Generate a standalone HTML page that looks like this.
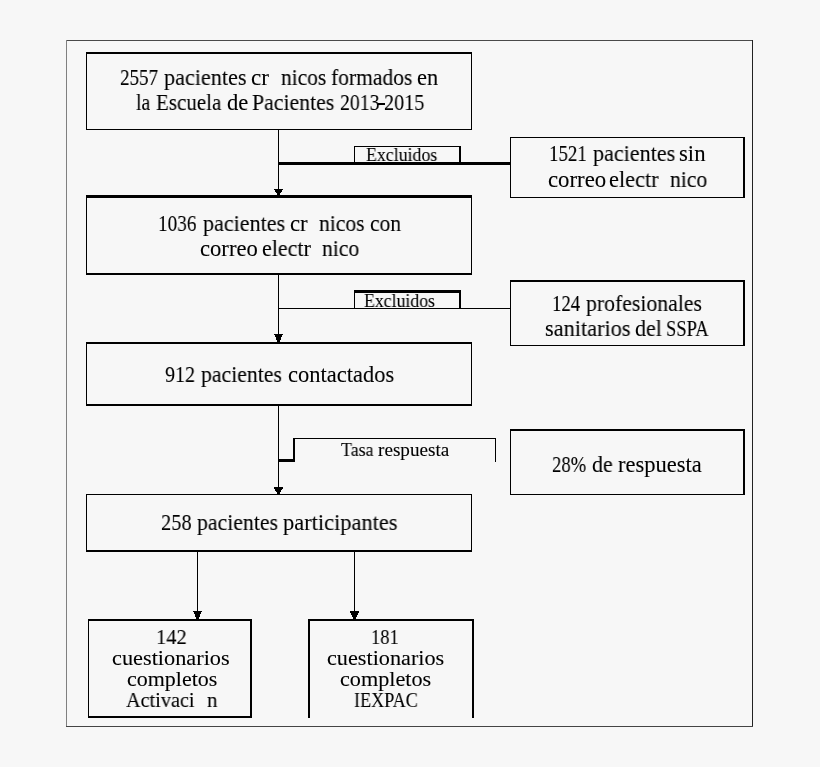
<!DOCTYPE html>
<html><head><meta charset="utf-8"><style>
html,body{margin:0;padding:0;background:#f7f7f7;width:820px;height:767px;overflow:hidden}
svg{position:absolute;left:0;top:0}
.t{position:absolute;white-space:pre;font-family:"Liberation Serif",serif;line-height:1;color:#000;transform-origin:0 0;will-change:transform;-webkit-text-stroke:0.1px #000}
</style></head><body>
<svg width="820" height="767" shape-rendering="crispEdges">
<rect x="66" y="40" width="687" height="1" fill="#4a4a4a"/>
<rect x="66" y="40" width="1" height="687" fill="#808080"/>
<rect x="752" y="40" width="1" height="687" fill="#222"/>
<rect x="66" y="726" width="687" height="1" fill="#444"/>
<rect x="86" y="52" width="386" height="2" fill="#000"/>
<rect x="86" y="129" width="386" height="1" fill="#000"/>
<rect x="86" y="52" width="1" height="78" fill="#000"/>
<rect x="471" y="52" width="1" height="78" fill="#000"/>
<rect x="510" y="137" width="235" height="1" fill="#000"/>
<rect x="510" y="197" width="235" height="1" fill="#000"/>
<rect x="510" y="137" width="1" height="61" fill="#000"/>
<rect x="743" y="137" width="2" height="61" fill="#000"/>
<rect x="86" y="195" width="386" height="3" fill="#000"/>
<rect x="86" y="273" width="386" height="2" fill="#000"/>
<rect x="86" y="195" width="1" height="80" fill="#000"/>
<rect x="471" y="195" width="1" height="80" fill="#000"/>
<rect x="510" y="280" width="235" height="2" fill="#000"/>
<rect x="510" y="345" width="235" height="1" fill="#000"/>
<rect x="510" y="280" width="1" height="66" fill="#000"/>
<rect x="743" y="280" width="2" height="66" fill="#000"/>
<rect x="86" y="342" width="386" height="2" fill="#000"/>
<rect x="86" y="404" width="386" height="2" fill="#000"/>
<rect x="86" y="342" width="1" height="64" fill="#000"/>
<rect x="471" y="342" width="1" height="64" fill="#000"/>
<rect x="510" y="429" width="235" height="2" fill="#000"/>
<rect x="510" y="494" width="235" height="1" fill="#000"/>
<rect x="510" y="429" width="1" height="66" fill="#000"/>
<rect x="743" y="429" width="2" height="66" fill="#000"/>
<rect x="86" y="494" width="386" height="1" fill="#000"/>
<rect x="86" y="550" width="386" height="2" fill="#000"/>
<rect x="86" y="494" width="1" height="58" fill="#000"/>
<rect x="471" y="494" width="1" height="58" fill="#000"/>
<rect x="88" y="619" width="164" height="2" fill="#000"/>
<rect x="88" y="716" width="164" height="2" fill="#000"/>
<rect x="88" y="619" width="1" height="99" fill="#000"/>
<rect x="250" y="619" width="2" height="99" fill="#000"/>
<rect x="308" y="619" width="166" height="2" fill="#000"/>
<rect x="308" y="619" width="2" height="99" fill="#000"/>
<rect x="472" y="619" width="2" height="99" fill="#000"/>
<rect x="354" y="146" width="107" height="1" fill="#000"/>
<rect x="354" y="146" width="1" height="19" fill="#000"/>
<rect x="459" y="146" width="2" height="19" fill="#000"/>
<rect x="354" y="290" width="107" height="3" fill="#000"/>
<rect x="354" y="290" width="1" height="19" fill="#000"/>
<rect x="459" y="290" width="2" height="19" fill="#000"/>
<rect x="278" y="130" width="1" height="60" fill="#000"/>
<rect x="278" y="162" width="232" height="3" fill="#000"/>
<rect x="278" y="275" width="1" height="61" fill="#000"/>
<rect x="278" y="308" width="232" height="1" fill="#000"/>
<rect x="278" y="406" width="1" height="82" fill="#000"/>
<rect x="278" y="459" width="17" height="3" fill="#000"/>
<rect x="293" y="438" width="2" height="24" fill="#000"/>
<rect x="293" y="438" width="203" height="1" fill="#000"/>
<rect x="495" y="438" width="1" height="24" fill="#000"/>
<rect x="378" y="103.4" width="6.5" height="1.8" fill="#000"/>
<rect x="197" y="552" width="1" height="60" fill="#000"/>
<rect x="354" y="552" width="1" height="60" fill="#000"/>
<polygon points="274.0,189 283.0,189 279.5,195 277.5,195" fill="#000"/>
<polygon points="274.0,334 283.0,334 279.5,342 277.5,342" fill="#000"/>
<polygon points="273.5,487 283.5,487 279.5,494 277.5,494" fill="#000"/>
<polygon points="193.0,611 202.0,611 198.5,619 196.5,619" fill="#000"/>
<polygon points="349.5,611 359.5,611 355.5,619 353.5,619" fill="#000"/>
</svg>
<div class="t" style="left:119.95px;top:66.80px;font-size:22.5px;transform:scaleX(0.8456)">2557</div>
<div class="t" style="left:164.41px;top:66.80px;font-size:22.5px;transform:scaleX(0.9854)">pacientes</div>
<div class="t" style="left:251.48px;top:66.80px;font-size:22.5px;transform:scaleX(1.0244)">cr</div>
<div class="t" style="left:281.02px;top:66.80px;font-size:22.5px;transform:scaleX(0.9523)">nicos</div>
<div class="t" style="left:331.33px;top:66.80px;font-size:22.5px;transform:scaleX(0.9568)">formados</div>
<div class="t" style="left:417.10px;top:66.80px;font-size:22.5px;transform:scaleX(0.9950)">en</div>
<div class="t" style="left:136.25px;top:91.80px;font-size:22.5px;transform:scaleX(0.8782)">la</div>
<div class="t" style="left:155.84px;top:91.80px;font-size:22.5px;transform:scaleX(0.9334)">Escuela</div>
<div class="t" style="left:226.50px;top:91.80px;font-size:22.5px;transform:scaleX(1.0051)">de</div>
<div class="t" style="left:252.32px;top:91.80px;font-size:22.5px;transform:scaleX(0.9677)">Pacientes</div>
<div class="t" style="left:339.62px;top:91.80px;font-size:22.5px;transform:scaleX(0.8773)">2013</div>
<div class="t" style="left:383.50px;top:91.80px;font-size:22.5px;transform:scaleX(0.8958)">2015</div>
<div class="t" style="left:366.33px;top:145.60px;font-size:18.8px;transform:scaleX(0.9486)">Excluidos</div>
<div class="t" style="left:549.12px;top:142.90px;font-size:22.5px;transform:scaleX(0.8393)">1521</div>
<div class="t" style="left:593.31px;top:142.90px;font-size:22.5px;transform:scaleX(0.9818)">pacientes</div>
<div class="t" style="left:678.79px;top:142.90px;font-size:22.5px;transform:scaleX(1.0120)">sin</div>
<div class="t" style="left:547.79px;top:168.60px;font-size:22.5px;transform:scaleX(1.0126)">correo</div>
<div class="t" style="left:608.81px;top:168.60px;font-size:22.5px;transform:scaleX(0.9918)">electr</div>
<div class="t" style="left:669.92px;top:168.60px;font-size:22.5px;transform:scaleX(0.9599)">nico</div>
<div class="t" style="left:157.89px;top:212.90px;font-size:22.5px;transform:scaleX(0.8538)">1036</div>
<div class="t" style="left:202.71px;top:212.90px;font-size:22.5px;transform:scaleX(0.9806)">pacientes</div>
<div class="t" style="left:289.89px;top:212.90px;font-size:22.5px;transform:scaleX(1.0122)">cr</div>
<div class="t" style="left:319.02px;top:212.90px;font-size:22.5px;transform:scaleX(0.9588)">nicos</div>
<div class="t" style="left:369.54px;top:212.90px;font-size:22.5px;transform:scaleX(0.9551)">con</div>
<div class="t" style="left:199.70px;top:237.60px;font-size:22.5px;transform:scaleX(1.0054)">correo</div>
<div class="t" style="left:261.52px;top:237.60px;font-size:22.5px;transform:scaleX(0.9775)">electr</div>
<div class="t" style="left:321.92px;top:237.60px;font-size:22.5px;transform:scaleX(0.9599)">nico</div>
<div class="t" style="left:364.43px;top:291.70px;font-size:18.8px;transform:scaleX(0.9446)">Excluidos</div>
<div class="t" style="left:552.23px;top:292.90px;font-size:22.5px;transform:scaleX(0.8344)">124</div>
<div class="t" style="left:586.11px;top:292.90px;font-size:22.5px;transform:scaleX(0.9663)">profesionales</div>
<div class="t" style="left:544.51px;top:317.50px;font-size:22.5px;transform:scaleX(0.9917)">sanitarios</div>
<div class="t" style="left:634.82px;top:317.50px;font-size:22.5px;transform:scaleX(0.9771)">del</div>
<div class="t" style="left:665.76px;top:317.50px;font-size:22.5px;transform:scaleX(0.8244)">SSPA</div>
<div class="t" style="left:164.88px;top:364.00px;font-size:22.5px;transform:scaleX(0.8899)">912</div>
<div class="t" style="left:200.61px;top:364.00px;font-size:22.5px;transform:scaleX(0.9660)">pacientes</div>
<div class="t" style="left:287.90px;top:364.00px;font-size:22.5px;transform:scaleX(0.9990)">contactados</div>
<div class="t" style="left:340.81px;top:440.80px;font-size:18.8px;transform:scaleX(0.9524)">Tasa</div>
<div class="t" style="left:378.09px;top:440.80px;font-size:18.8px;transform:scaleX(1.0202)">respuesta</div>
<div class="t" style="left:551.77px;top:453.80px;font-size:22.5px;transform:scaleX(0.8304)">28%</div>
<div class="t" style="left:591.62px;top:453.80px;font-size:22.5px;transform:scaleX(0.9746)">de</div>
<div class="t" style="left:617.60px;top:453.80px;font-size:22.5px;transform:scaleX(1.0012)">respuesta</div>
<div class="t" style="left:160.69px;top:511.90px;font-size:22.5px;transform:scaleX(0.9091)">258</div>
<div class="t" style="left:196.91px;top:511.90px;font-size:22.5px;transform:scaleX(0.9672)">pacientes</div>
<div class="t" style="left:283.00px;top:511.90px;font-size:22.5px;transform:scaleX(0.9956)">participantes</div>
<div class="t" style="left:156.29px;top:626.80px;font-size:21.5px;transform:scaleX(0.9521)">142</div>
<div class="t" style="left:112.47px;top:647.90px;font-size:21.5px;transform:scaleX(1.0375)">cuestionarios</div>
<div class="t" style="left:126.78px;top:669.00px;font-size:21.5px;transform:scaleX(1.0219)">completos</div>
<div class="t" style="left:126.31px;top:689.60px;font-size:21.5px;transform:scaleX(0.9419)">Activaci</div>
<div class="t" style="left:207.12px;top:689.60px;font-size:21.5px;transform:scaleX(0.9697)">n</div>
<div class="t" style="left:370.96px;top:626.80px;font-size:21.5px;transform:scaleX(0.8625)">181</div>
<div class="t" style="left:326.57px;top:647.90px;font-size:21.5px;transform:scaleX(1.0331)">cuestionarios</div>
<div class="t" style="left:339.77px;top:669.00px;font-size:21.5px;transform:scaleX(1.0323)">completos</div>
<div class="t" style="left:353.62px;top:689.60px;font-size:21.5px;transform:scaleX(0.8440)">IEXPAC</div>
</body></html>
